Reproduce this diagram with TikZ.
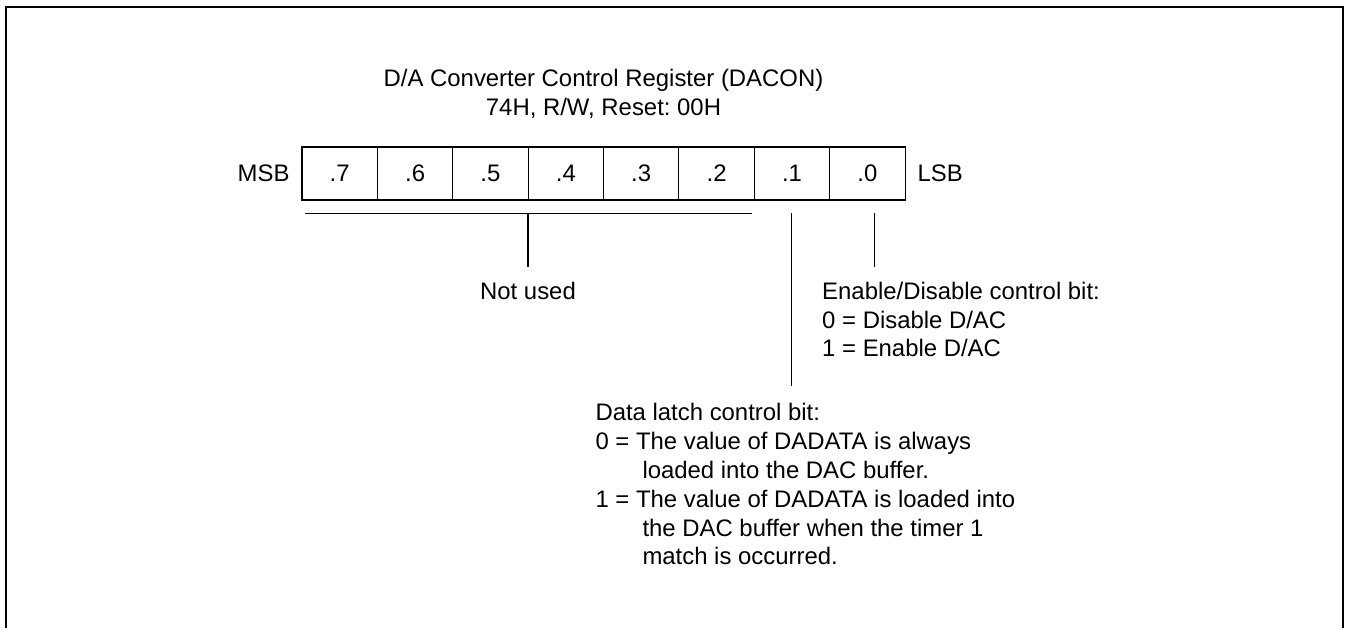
\documentclass[tikz,border=0pt]{standalone}
\usepackage{fontspec}
\setmainfont{Liberation Sans}
\usetikzlibrary{positioning}
\frenchspacing

\tikzset{
  bitcell/.style = {draw, outer sep=0pt, inner sep=0pt, minimum width=1.5075cm, minimum height=1.06cm},
  note/.style = {inner xsep=0pt, inner ysep=0.28cm, align=left},
}

\begin{document}
\begin{tikzpicture}[font=\fontsize{13.6}{16.4}\selectfont, line width=0.6pt]
\useasboundingbox (0,0) rectangle (26.94,12.56);
\draw[line width=1.2pt] (0.12,0) -- (0.12,12.42) -- (26.86,12.42) -- (26.86,0);

\node[align=center] (title) at (12.07,10.68) {D/A Converter Control Register (DACON)\\74H, R/W, Reset: 00H};

\node[bitcell] (b7) at (6.794,9.09) {.7};
\node[bitcell, right=0pt of b7] (b6) {.6};
\node[bitcell, right=0pt of b6] (b5) {.5};
\node[bitcell, right=0pt of b5] (b4) {.4};
\node[bitcell, right=0pt of b4] (b3) {.3};
\node[bitcell, right=0pt of b3] (b2) {.2};
\node[bitcell, right=0pt of b2] (b1) {.1};
\node[bitcell, right=0pt of b1] (b0) {.0};
\node[left=0.24cm of b7, inner sep=0pt] (msb) {MSB};
\node[right=0.24cm of b0, inner sep=0pt] (lsb) {LSB};

% bits .7 to .2
\coordinate (u1) at (6.1,8.294);
\coordinate (u2) at (15.034,8.294);
\coordinate (um) at (10.56,8.294);
\draw (u1) -- (u2);
\node[note, anchor=north] (unused) at (10.56,7.21) {Not used};
\draw (um) -- (unused.north);

% bit .1
\coordinate (d1) at (15.834,8.294);
\node[note, anchor=north west, inner ysep=0.34cm] (latch) at (11.9,4.84) {Data latch control bit:\\
0 = The value of DADATA is always\\
\hspace*{0.94cm}loaded into the DAC buffer.\\
1 = The value of DADATA is loaded into\\
\hspace*{0.94cm}the DAC buffer when the timer 1\\
\hspace*{0.94cm}match is occurred.};
\draw (d1) -- (d1 |- latch.north);

% bit .0
\coordinate (e1) at (17.486,8.294);
\node[note, anchor=north west] (enable) at (16.434,7.21) {Enable/Disable control bit:\\
0 = Disable D/AC\\
1 = Enable D/AC};
\draw (e1) -- (e1 |- enable.north);
\end{tikzpicture}
\end{document}
